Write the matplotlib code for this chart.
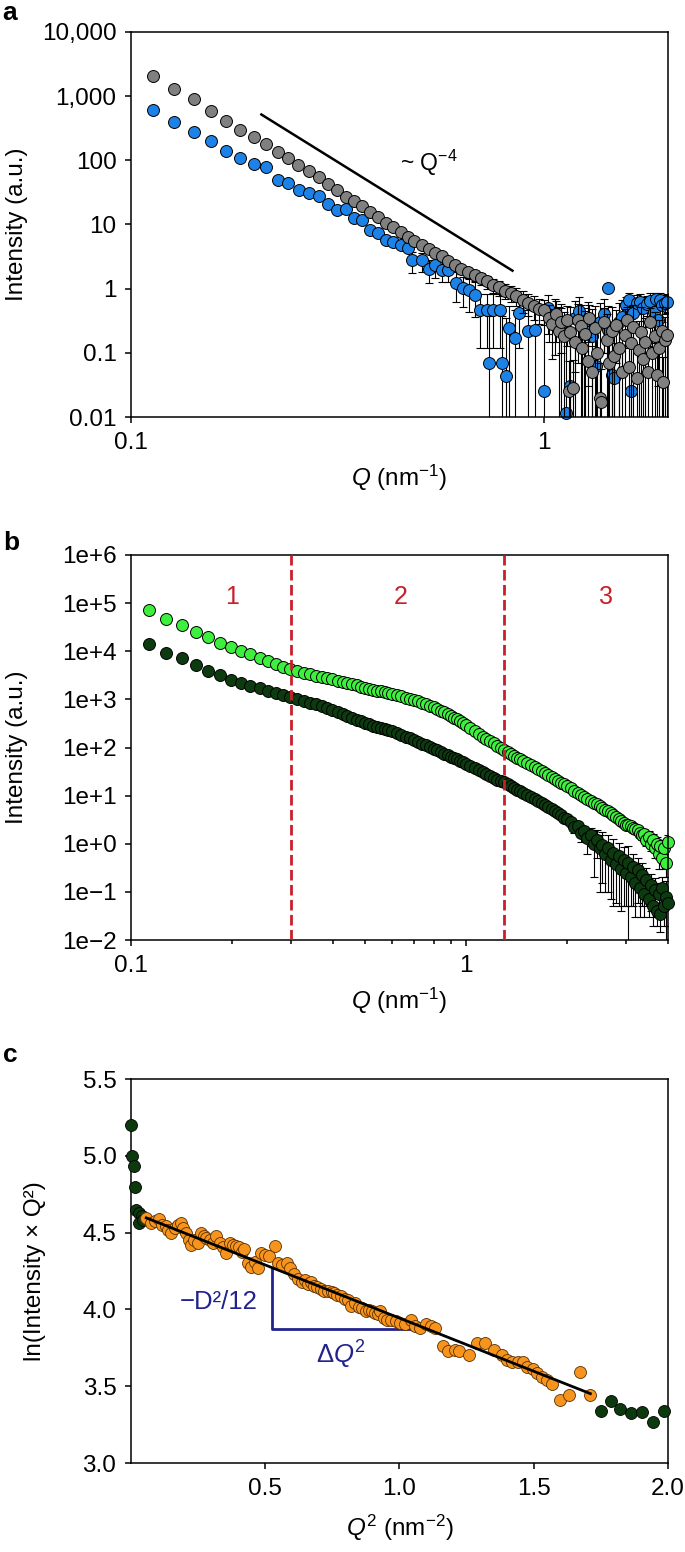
import numpy as np
import matplotlib
matplotlib.use("Agg")
import matplotlib.pyplot as plt
from matplotlib.ticker import NullLocator, NullFormatter, LogLocator

plt.rcParams['font.family'] = ['Liberation Sans', 'DejaVu Sans']
plt.rcParams['mathtext.fontset'] = 'custom'
plt.rcParams['mathtext.rm'] = 'Liberation Sans'
plt.rcParams['mathtext.it'] = 'Liberation Sans:italic'
plt.rcParams['mathtext.bf'] = 'Liberation Sans:bold'
plt.rcParams['axes.linewidth'] = 1.1

# --- DATA: panel a ---
a_grey_q = [0.113, 0.127, 0.142, 0.156, 0.170, 0.184, 0.199, 0.212, 0.227, 0.240,
            0.254, 0.270, 0.285, 0.300, 0.315, 0.331, 0.347, 0.363, 0.380, 0.396,
            0.414, 0.432, 0.450, 0.468, 0.486, 0.506, 0.526, 0.546, 0.566, 0.587,
            0.609, 0.632, 0.656, 0.681, 0.705, 0.729, 0.755, 0.779, 0.806, 0.832,
            0.859, 0.889, 0.918, 0.948, 0.976, 1.004,
            1.03, 1.05, 1.07, 1.09, 1.10, 1.12, 1.14, 1.15, 1.16, 1.18,
            1.19, 1.21, 1.23, 1.24, 1.26, 1.28, 1.29, 1.31, 1.33, 1.35,
            1.37, 1.38, 1.40, 1.42, 1.44, 1.46, 1.48, 1.50, 1.52, 1.55,
            1.57, 1.59, 1.61, 1.63, 1.65, 1.68, 1.70, 1.72, 1.74, 1.76,
            1.79, 1.81, 1.83, 1.86, 1.88, 1.90, 1.93, 1.95, 1.97, 1.99]
a_grey_i = [2046, 1315, 887, 591, 414, 296, 228, 180, 135, 109,
            85, 67, 54, 42, 34.6, 27.2, 23.1, 19.1, 15.6, 12.9,
            10.7, 9.1, 7.6, 6.5, 5.6, 4.83, 4.14, 3.58, 3.18, 2.66,
            2.31, 2.02, 1.79, 1.61, 1.46, 1.30, 1.15, 1.06, 0.93, 0.86,
            0.78, 0.67, 0.60, 0.54, 0.48, 0.47,
            0.35, 0.28, 0.40, 0.22, 0.30, 0.18, 0.33, 0.025, 0.21, 0.028,
            0.15, 0.32, 0.26, 0.12, 0.20, 0.075, 0.35, 0.05, 0.24, 0.10,
            0.020, 0.017, 0.30, 0.16, 0.07, 0.22, 0.09, 0.27, 0.12, 0.05,
            0.19, 0.32, 0.06, 0.14, 0.25, 0.04, 0.11, 0.21, 0.08, 0.15,
            0.05, 0.30, 0.10, 0.18, 0.045, 0.12, 0.22, 0.035, 0.16, 0.19]
a_grey_err = [0, 0, 0, 0, 0, 0, 0, 0, 0, 0,
              0, 0, 0, 0, 0, 0, 0, 0, 0, 0,
              0, 0, 0, 0.5, 0.5, 0.45, 0.4, 0.4, 0.35, 0.35,
              0.3, 0.3, 0.3, 0.3, 0.3, 0.3, 0.28, 0.28, 0.25, 0.25,
              0.25, 0.25, 0.22, 0.22, 0.2, 0.2,
              0.2, 0.2, 0.25, 0.3, 0.2, 0.25, 0.2, 0.05, 0.3, 0.05,
              0.2, 0.25, 0.3, 0.15, 0.25, 0.1, 0.2, 0.08, 0.3, 0.15,
              0.05, 0.04, 0.2, 0.25, 0.1, 0.3, 0.15, 0.2, 0.2, 0.08,
              0.3, 0.2, 0.1, 0.2, 0.3, 0.06, 0.2, 0.3, 0.1, 0.2,
              0.08, 0.2, 0.15, 0.25, 0.06, 0.2, 0.3, 0.05, 0.2, 0.25]

a_blue_q = [0.113, 0.127, 0.142, 0.156, 0.170, 0.184, 0.199, 0.212, 0.227, 0.240,
            0.256, 0.270, 0.285, 0.300, 0.315, 0.331, 0.347, 0.363, 0.380, 0.396,
            0.414, 0.432, 0.450, 0.468, 0.479, 0.506, 0.526, 0.546, 0.566, 0.587,
            0.612, 0.636, 0.660, 0.681, 0.700, 0.728, 0.755, 0.783, 0.822, 0.853,
            0.736, 0.792, 0.812, 0.873, 0.918, 0.953,
            1.00, 1.025, 1.064, 1.10, 1.13, 1.16, 1.19, 1.22, 1.25, 1.28,
            1.31, 1.34, 1.37, 1.40, 1.43, 1.43, 1.46, 1.48, 1.52, 1.55,
            1.58, 1.61, 1.63, 1.65, 1.68, 1.71, 1.74, 1.78, 1.81, 1.85,
            1.87, 1.89, 1.91, 1.94, 1.97, 1.99]
a_blue_i = [606, 399, 279, 202, 140, 110, 86.7, 77.9, 49.5, 45,
            34.6, 30.7, 27.9, 20.9, 16.9, 17.3, 12.5, 11.8, 8.3, 7.5,
            5.8, 5.25, 4.83, 4.29, 2.75, 2.75, 2.02, 2.36, 1.97, 1.97,
            1.22, 1.02, 0.94, 0.81, 0.47, 0.47, 0.47, 0.47, 0.245, 0.171,
            0.070, 0.070, 0.043, 0.42, 0.217, 0.231,
            0.0254, 0.50, 0.394, 0.28, 0.0117, 0.030, 0.35, 0.444, 0.25, 0.33,
            0.18, 0.062, 0.30, 0.40, 1.04, 0.23, 0.045, 0.040, 0.30, 0.36,
            0.55, 0.67, 0.025, 0.42, 0.60, 0.63, 0.50, 0.57, 0.65, 0.44,
            0.70, 0.33, 0.67, 0.55, 0.60, 0.62]
a_blue_err = [0, 0, 0, 0, 0, 0, 0, 0, 0, 0,
              0, 0, 0, 0, 0, 0, 0, 0, 0, 0,
              0, 0, 0, 0, 1.0, 0.9, 0.8, 0.9, 0.7, 0.7,
              0.6, 0.5, 0.5, 0.45, 0.35, 0.35, 0.35, 0.35, 0.3, 0.3,
              0.3, 0.3, 0.3, 0.3, 0.25, 0.25,
              0.3, 0.3, 0.3, 0.3, 0.3, 0.3, 0.3, 0.3, 0.25, 0.3,
              0.3, 0.2, 0.3, 0.3, 0.1, 0.3, 0.2, 0.1, 0.3, 0.3,
              0.2, 0.2, 0.1, 0.3, 0.2, 0.2, 0.25, 0.2, 0.2, 0.3,
              0.15, 0.3, 0.2, 0.25, 0.2, 0.2]

a_guide_q = [0.207, 0.84]   # range of the ~Q^-4 guide
a_guide_pref = 0.95          # I = pref * Q^-4

a_yticks = [0.01, 0.1, 1, 10, 100, 1000, 10000]
a_ylabels = ['0.01', '0.1', '1', '10', '100', '1,000', '10,000']
a_xticks = [0.1, 1]
a_xlabels = ['0.1', '1']

# --- DATA: panel b ---
b_q = [0.113, 0.127, 0.142, 0.156, 0.170, 0.184, 0.199, 0.213, 0.227, 0.242,
       0.256, 0.270, 0.285, 0.299, 0.313, 0.328, 0.342, 0.356, 0.371, 0.385,
       0.399, 0.414, 0.428, 0.442, 0.457, 0.471, 0.485, 0.500, 0.514, 0.528,
       0.543, 0.557, 0.571, 0.586, 0.600,
       0.62, 0.64, 0.66, 0.68, 0.70, 0.72, 0.74, 0.76, 0.78, 0.80,
       0.82, 0.84, 0.86, 0.88, 0.90, 0.92, 0.94, 0.96, 0.98, 1.00,
       1.03, 1.06, 1.09, 1.12, 1.15, 1.18, 1.21, 1.24, 1.27, 1.30,
       1.33, 1.36, 1.39, 1.42, 1.45, 1.48,
       1.52, 1.56, 1.60, 1.64, 1.68, 1.72, 1.76, 1.80, 1.84, 1.88, 1.92, 1.96, 2.00,
       2.05, 2.10, 2.15, 2.20, 2.25, 2.30, 2.35, 2.40, 2.45, 2.50,
       2.55, 2.60, 2.65, 2.70, 2.75, 2.80, 2.85, 2.90, 2.95, 3.00,
       3.05, 3.10, 3.15, 3.20, 3.25, 3.30, 3.35, 3.40, 3.45, 3.50,
       3.55, 3.60, 3.65, 3.70, 3.75, 3.80, 3.85, 3.90, 3.95, 4.00]
b_light = [72000, 46000, 35000, 25500, 19500, 15200, 12400, 10300, 8700, 7400,
           6400, 5450, 4800, 4250, 3850, 3560, 3330, 3130, 2930, 2750,
           2600, 2450, 2320, 2210, 2080, 1960, 1850, 1750, 1660, 1580,
           1520, 1460, 1405, 1360, 1310,
           1230, 1160, 1090, 1030, 977, 910, 845, 785, 733, 685,
           635, 583, 536, 493, 453, 416, 385, 353, 318, 288,
           250, 217, 189, 168, 151, 135, 122, 110, 99, 90,
           82, 74, 68, 62, 57, 52,
           47, 43, 39, 35.5, 32.6, 29.6, 27.0, 24.6, 22.3, 20.5, 18.7, 17.1, 15.7,
           14.1, 12.7, 11.5, 10.4, 9.5, 8.6, 7.8, 7.2, 6.6, 6.0,
           5.5, 5.1, 4.7, 4.4, 4.0, 3.6, 3.25, 2.98, 2.7, 2.5,
           2.4, 2.3, 2.15, 2.0, 1.9, 1.7, 1.5, 1.6, 1.2, 1.4,
           1.0, 1.2, 0.8, 1.0, 0.6, 0.9, 0.5, 0.8, 0.4, 1.1]
b_dark = [14200, 9100, 7100, 5200, 3900, 3250, 2550, 2230, 1930, 1700,
          1520, 1380, 1240, 1110, 1030, 920, 850, 790, 730, 660,
          597, 541, 496, 454, 413, 382, 352, 326, 303, 284,
          268, 254, 240, 228, 217,
          200, 183, 168, 155, 144, 132, 121, 111, 102, 94,
          87, 81, 75, 70, 65, 60.5, 56.7, 53, 49.2, 45.8,
          41.3, 37.3, 33.9, 30.8, 28.1, 25.6, 23.5, 21.6, 19.8, 18.9,
          17.3, 15.8, 14.5, 13.4, 12.4, 11.4,
          10.3, 9.4, 8.6, 7.8, 7.2, 6.5, 5.9, 5.3, 4.75, 4.3, 3.9, 3.5, 3.2,
          2.8, 2.2, 2.3, 1.7, 1.8, 1.3, 1.5, 1.0, 1.2, 0.8,
          0.95, 0.6, 0.8, 0.45, 0.65, 0.38, 0.55, 0.3, 0.45, 0.25,
          0.4, 0.2, 0.33, 0.15, 0.28, 0.12, 0.22, 0.09, 0.18, 0.07,
          0.14, 0.05, 0.11, 0.04, 0.09, 0.035, 0.12, 0.05, 0.08, 0.06]
# error bars only on the last 40 points (Q >= 2.05)
b_light_err_tail = [0, 0, 0, 0, 0, 0, 0, 0, 0, 0,
                    0, 0, 0, 0, 0, 0, 0, 0, 0, 0,
                    0, 0, 0, 0, 0.3, 0.4, 0.3, 0.4, 0.3, 0.4,
                    0.3, 0.4, 0.3, 0.4, 0.3, 0.3, 0.2, 0.3, 0.2, 0.4]
b_dark_err_tail = [0.3, 0.5, 0.4, 0.6, 0.5, 0.7, 0.6, 0.8, 0.7, 0.7,
                   0.8, 0.5, 0.7, 0.38, 0.6, 0.32, 0.5, 0.26, 0.4, 0.2,
                   0.5, 0.15, 0.28, 0.12, 0.22, 0.09, 0.17, 0.06, 0.13, 0.04,
                   0.1, 0.03, 0.08, 0.02, 0.06, 0.02, 0.08, 0.03, 0.09, 0.04]
b_regions_q = [0.30, 1.30]
b_region_labels = ['1', '2', '3']
b_region_label_q = [0.20, 0.64, 2.61]
b_region_label_i = 1.36e5

b_yticks = [1e-2, 1e-1, 1e0, 1e1, 1e2, 1e3, 1e4, 1e5, 1e6]
b_ylabels = ['1e\u22122', '1e\u22121', '1e+0', '1e+1', '1e+2', '1e+3', '1e+4', '1e+5', '1e+6']

# --- DATA: panel c ---
c_orange_q2 = [0.057, 0.073, 0.090, 0.106, 0.117, 0.130, 0.139, 0.150, 0.163, 0.176,
               0.187, 0.192, 0.204, 0.215, 0.225, 0.236, 0.248, 0.261, 0.271, 0.280,
               0.293, 0.306, 0.318, 0.331, 0.342, 0.355, 0.367, 0.380, 0.393, 0.403,
               0.412, 0.421, 0.437, 0.448, 0.461, 0.473, 0.486, 0.499, 0.513, 0.535,
               0.546, 0.562, 0.582, 0.592, 0.606, 0.623, 0.636, 0.647, 0.660, 0.672,
               0.681, 0.693, 0.706, 0.720, 0.733, 0.747, 0.758, 0.769, 0.782, 0.799,
               0.807, 0.820, 0.835, 0.848, 0.861, 0.874, 0.885, 0.896, 0.910, 0.921,
               0.929, 0.942, 0.954, 0.970, 0.986, 1.002, 1.019, 1.043, 1.059, 1.076,
               1.100, 1.117, 1.133, 1.161, 1.182, 1.206, 1.222, 1.258, 1.288, 1.320,
               1.353, 1.382, 1.402, 1.421, 1.443, 1.459, 1.475, 1.496, 1.513, 1.532,
               1.548, 1.568, 1.597, 1.630, 1.671, 1.711]
c_orange_ln = [4.597, 4.564, 4.575, 4.586, 4.553, 4.542, 4.520, 4.498, 4.531, 4.553,
               4.564, 4.531, 4.498, 4.454, 4.421, 4.454, 4.432, 4.498, 4.476, 4.465,
               4.454, 4.432, 4.476, 4.432, 4.410, 4.366, 4.432, 4.421, 4.414, 4.410,
               4.377, 4.392, 4.300, 4.278, 4.311, 4.267, 4.366, 4.355, 4.348, 4.414,
               4.300, 4.289, 4.300, 4.267, 4.233, 4.200, 4.178, 4.189, 4.167, 4.178,
               4.156, 4.145, 4.134, 4.123, 4.123, 4.112, 4.106, 4.097, 4.090, 4.068,
               4.062, 4.024, 4.040, 4.013, 4.009, 3.991, 3.996, 3.991, 3.980, 3.969,
               3.991, 3.947, 3.932, 3.930, 3.925, 3.914, 3.903, 3.930, 3.892, 3.881,
               3.907, 3.892, 3.877, 3.760, 3.731, 3.738, 3.731, 3.705, 3.782, 3.782,
               3.738, 3.705, 3.672, 3.661, 3.656, 3.661, 3.628, 3.612, 3.584, 3.562,
               3.540, 3.518, 3.408, 3.441, 3.595, 3.441]
c_green_q2 = [0.0, 0.005, 0.01, 0.016, 0.02, 0.03, 0.04, 0.03, 0.045,
              1.749, 1.788, 1.822, 1.863, 1.904, 1.943, 1.984]
c_green_ln = [5.203, 5.0, 4.934, 4.795, 4.648, 4.626, 4.608, 4.564, 4.58,
              3.341, 3.407, 3.352, 3.324, 3.335, 3.269, 3.341]
c_fit_slope = -0.692
c_fit_intercept = 4.636
c_fit_range = [0.057, 1.711]
c_tri_q2 = [0.526, 1.100]

# --- COLOURS ---
GREY = '#808080'
BLUE = '#1c82e8'
LIGHT = '#3ef03e'
DARK = '#0d3b10'
ORANGE = '#f7941d'
CDARK = '#0c3a0e'
RED = '#c8202a'
NAVY = '#22228c'

FS = 17.5
MS = 8.6


def style(ax):
    ax.tick_params(which='both', direction='out', top=False, right=False,
                   labelsize=FS, width=1.1, pad=6)
    ax.tick_params(which='major', length=4.5)
    ax.tick_params(which='minor', length=3)


def series(ax, q, i, err, color, z):
    ax.errorbar(q, i, yerr=err, fmt='none', ecolor='black', elinewidth=0.8,
                capsize=3, capthick=0.8, zorder=z)
    ax.plot(q, i, 'o', ms=MS, mfc=color, mec='black', mew=0.7,
            clip_on=False, zorder=z + 0.5)


fig = plt.figure(figsize=(6.85, 15.52), dpi=100)
ax_a = fig.add_axes([0.1912, 0.7313, 0.7839, 0.2481])
ax_b = fig.add_axes([0.1912, 0.3943, 0.7839, 0.2481])
ax_c = fig.add_axes([0.1912, 0.0573, 0.7839, 0.2474])

# ---- panel a ----
ax_a.set_xscale('log')
ax_a.set_yscale('log')
series(ax_a, a_blue_q, a_blue_i, a_blue_err, BLUE, 2)
series(ax_a, a_grey_q, a_grey_i, a_grey_err, GREY, 4)
gq = np.array(a_guide_q)
ax_a.plot(gq, a_guide_pref * gq ** -4, color='black', lw=1.8, zorder=6)
ax_a.text(0.528, 90, '~ Q$^{\u22124}$', fontsize=16.5, ha='center', va='center')
ax_a.set_xlim(0.1, 2.0)
ax_a.set_ylim(0.01, 10000)
ax_a.set_xticks(a_xticks)
ax_a.set_xticklabels(a_xlabels)
ax_a.xaxis.set_minor_locator(NullLocator())
ax_a.set_yticks(a_yticks)
ax_a.set_yticklabels(a_ylabels)
ax_a.yaxis.set_minor_locator(NullLocator())
style(ax_a)
ax_a.set_ylabel('Intensity (a.u.)', fontsize=FS)
ax_a.set_xlabel('$Q$ (nm$^{\u22121}$)', fontsize=FS)
ax_a.yaxis.set_label_coords(-0.192, 0.5)
ax_a.xaxis.set_label_coords(0.5, -0.118)

# ---- panel b ----
ax_b.set_xscale('log')
ax_b.set_yscale('log')
n_tail = len(b_dark_err_tail)
b_light_err = [0] * (len(b_q) - n_tail) + b_light_err_tail
b_dark_err = [0] * (len(b_q) - n_tail) + b_dark_err_tail
series(ax_b, b_q, b_light, b_light_err, LIGHT, 2)
series(ax_b, b_q, b_dark, b_dark_err, DARK, 4)
for xq in b_regions_q:
    ax_b.axvline(xq, color=RED, lw=2, ls=(0, (3.8, 1.6)), zorder=7)
for lab, xq in zip(b_region_labels, b_region_label_q):
    ax_b.text(xq, b_region_label_i, lab, color=RED, fontsize=18,
              ha='center', va='center')
ax_b.set_xlim(0.1, 4.0)
ax_b.set_ylim(1e-2, 1e6)
ax_b.set_xticks(a_xticks)
ax_b.set_xticklabels(a_xlabels)
ax_b.xaxis.set_minor_locator(LogLocator(base=10, subs=range(2, 10)))
ax_b.xaxis.set_minor_formatter(NullFormatter())
ax_b.set_yticks(b_yticks)
ax_b.set_yticklabels(b_ylabels)
ax_b.yaxis.set_minor_locator(NullLocator())
style(ax_b)
ax_b.set_ylabel('Intensity (a.u.)', fontsize=FS)
ax_b.set_xlabel('$Q$ (nm$^{\u22121}$)', fontsize=FS)
ax_b.yaxis.set_label_coords(-0.192, 0.5)
ax_b.xaxis.set_label_coords(0.5, -0.118)

# ---- panel c ----
ax_c.plot(c_green_q2, c_green_ln, 'o', ms=MS, mfc=CDARK, mec='black',
          mew=0.6, clip_on=False, zorder=3)
ax_c.plot(c_orange_q2, c_orange_ln, 'o', ms=MS, mfc=ORANGE, mec='#5a3000',
          mew=0.6, clip_on=False, zorder=3.5)
fx = np.array(c_fit_range)
ax_c.plot(fx, c_fit_intercept + c_fit_slope * fx, color='black', lw=2, zorder=5)
t0, t1 = c_tri_q2
y0 = c_fit_intercept + c_fit_slope * t0
y1 = c_fit_intercept + c_fit_slope * t1
ax_c.plot([t0, t0, t1], [y0, y1, y1], color=NAVY, lw=2, zorder=2)
ax_c.text(0.326, 4.046, '\u2212D\u00b2/12', color=NAVY, fontsize=18.5,
          ha='center', va='center')
ax_c.text(0.782, 3.705, '\u0394$Q^2$', color=NAVY, fontsize=18.5,
          ha='center', va='center')
ax_c.set_xlim(0, 2.0)
ax_c.set_ylim(3.0, 5.5)
ax_c.set_xticks([0.5, 1.0, 1.5, 2.0])
ax_c.set_xticklabels(['0.5', '1.0', '1.5', '2.0'])
ax_c.set_yticks([3.0, 3.5, 4.0, 4.5, 5.0, 5.5])
ax_c.set_yticklabels(['3.0', '3.5', '4.0', '4.5', '5.0', '5.5'])
style(ax_c)
ax_c.set_ylabel('ln(Intensity \u00d7 Q\u00b2)', fontsize=FS)
ax_c.set_xlabel('$Q^2$ (nm$^{\u22122}$)', fontsize=FS)
ax_c.yaxis.set_label_coords(-0.158, 0.5)
ax_c.xaxis.set_label_coords(0.5, -0.13)

# panel letters
for lab, ypix in zip(['a', 'b', 'c'], [13, 543, 1055]):
    fig.text(0.004, 1 - ypix / 1552, lab, fontsize=19, fontweight='bold',
             ha='left', va='center')

fig.savefig('out.png', dpi=100)
